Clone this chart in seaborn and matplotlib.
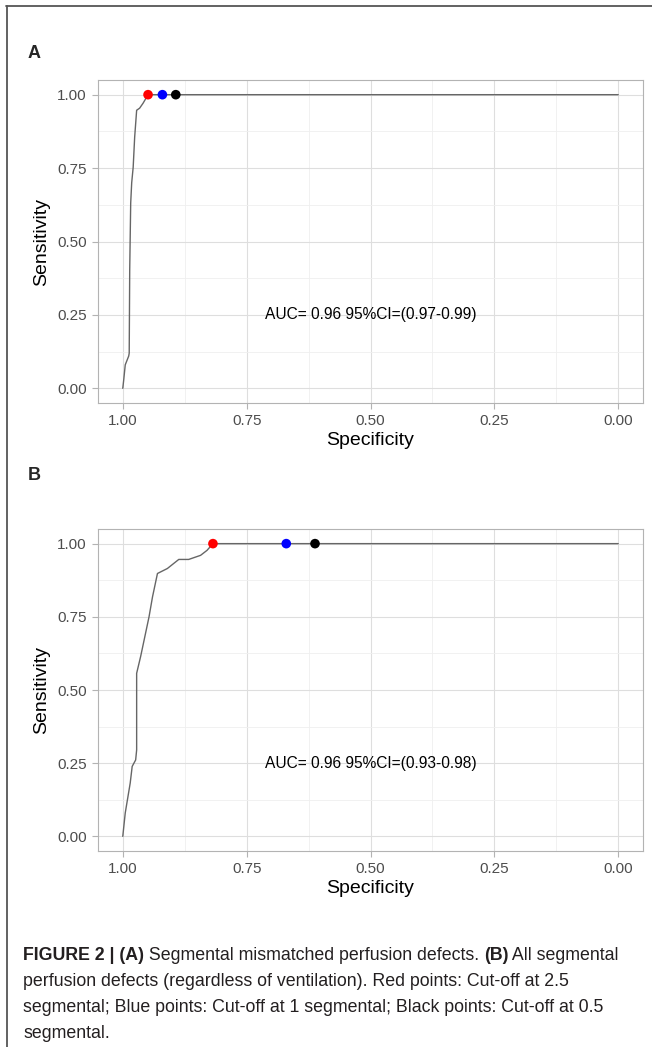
import matplotlib
matplotlib.use("Agg")
import matplotlib.pyplot as plt
import seaborn as sns
import pandas as pd
from matplotlib.lines import Line2D

# ROC curve for panel A (specificity, sensitivity)
spec_a = [1.000, 0.998, 0.995, 0.988, 0.987, 0.986, 0.984, 0.982, 0.979, 0.976, 0.972, 0.966, 0.959, 0.949, 0.920, 0.893, 0.000]
sens_a = [0.000, 0.030, 0.080, 0.110, 0.120, 0.403, 0.631, 0.700, 0.753, 0.855, 0.947, 0.954, 0.971, 1.000, 1.000, 1.000, 1.000]

# ROC curve for panel B
spec_b = [1.000, 0.995, 0.985, 0.981, 0.974, 0.972, 0.972, 0.964, 0.957, 0.947, 0.940, 0.930, 0.910, 0.887, 0.867, 0.843, 0.830, 0.818, 0.670, 0.612, 0.000]
sens_b = [0.000, 0.080, 0.182, 0.239, 0.261, 0.295, 0.557, 0.614, 0.670, 0.750, 0.818, 0.898, 0.915, 0.946, 0.946, 0.960, 0.977, 1.000, 1.000, 1.000, 1.000]

# cut-off points: red 2.5, blue 1, black 0.5 segmental
cut_colors = ["#FF0000", "#0000FF", "#000000"]
cut_spec_a = [0.949, 0.920, 0.893]
cut_spec_b = [0.818, 0.670, 0.612]
cut_sens = [1.0, 1.0, 1.0]

auc_a = "AUC= 0.96 95%CI=(0.97-0.99)"
auc_b = "AUC= 0.96 95%CI=(0.93-0.98)"
panel_tags = ["A", "B"]

ticks = [0.0, 0.25, 0.5, 0.75, 1.0]
tick_labels = ["0.00", "0.25", "0.50", "0.75", "1.00"]
minor = [0.125, 0.375, 0.625, 0.875]

caption = [
    [("FIGURE 2 | (A)", "bold"), (" Segmental mismatched perfusion defects. ", "normal"),
     ("(B)", "bold"), (" All segmental", "normal")],
    [("perfusion defects (regardless of ventilation). Red points: Cut-off at 2.5", "normal")],
    [("segmental; Blue points: Cut-off at 1 segmental; Black points: Cut-off at 0.5", "normal")],
    [("segmental.", "normal")],
]

sns.set_theme(style="white")
plt.rcParams['font.family'] = ['Liberation Sans', 'DejaVu Sans']

W, H = 652, 1047
fig = plt.figure(figsize=(W / 100, H / 100), dpi=100)


def px_axes(left, top, right, bottom):
    return fig.add_axes([left / W, 1 - bottom / H, (right - left) / W, (bottom - top) / H])


def draw_panel(ax, spec, sens, cut_spec, label):
    df = pd.DataFrame({"spec": spec, "sens": sens})
    sns.lineplot(data=df, x="spec", y="sens", sort=False, estimator=None,
                 color="#666666", linewidth=1.0, ax=ax)
    pts = pd.DataFrame({"spec": cut_spec, "sens": cut_sens, "c": ["r", "b", "k"]})
    sns.scatterplot(data=pts, x="spec", y="sens", hue="c", palette=cut_colors,
                    s=48, edgecolor="none", legend=False, zorder=3, ax=ax)
    ax.set_xlim(1.05, -0.05)
    ax.set_ylim(-0.05, 1.05)
    ax.set_xticks(ticks)
    ax.set_xticklabels(tick_labels)
    ax.set_yticks(ticks)
    ax.set_yticklabels(tick_labels)
    ax.set_xticks(minor, minor=True)
    ax.set_yticks(minor, minor=True)
    ax.grid(True, which="major", color="#DEDEDE", linewidth=0.8)
    ax.grid(True, which="minor", color="#EFEFEF", linewidth=0.6)
    ax.set_axisbelow(True)
    for s in ax.spines.values():
        s.set_color("#B3B3B3")
        s.set_linewidth(0.8)
    ax.tick_params(which="major", direction="out", length=4, width=0.8, color="#B3B3B3",
                   labelsize=11, labelcolor="#4D4D4D", pad=4, bottom=True, left=True)
    ax.tick_params(which="minor", length=0)
    ax.set_xlabel("Specificity", fontsize=14, color="black", labelpad=3)
    ax.set_ylabel("Sensitivity", fontsize=14, color="black", labelpad=5)
    ax.text(0.5, 0.25, label, ha="center", va="center", fontsize=11.2, color="black")


ax_a = px_axes(98, 80, 643, 403)
ax_b = px_axes(98, 529, 643, 851)
draw_panel(ax_a, spec_a, sens_a, cut_spec_a, auc_a)
draw_panel(ax_b, spec_b, sens_b, cut_spec_b, auc_b)

fig.text(28 / W, 1 - 53 / H, panel_tags[0], fontsize=13, fontweight="bold", va="center")
fig.text(28 / W, 1 - 476 / H, panel_tags[1], fontsize=13, fontweight="bold", va="center")

# outer frame (top and left rule)
fig.add_artist(Line2D([6 / W, 1], [1 - 6 / H, 1 - 6 / H], color="#555555", linewidth=1.3))
fig.add_artist(Line2D([7 / W, 7 / W], [1 - 6 / H, 0], color="#555555", linewidth=1.3))

# caption with mixed weights
fig.canvas.draw()
renderer = fig.canvas.get_renderer()
cap_size = 12.8
line_y = [955, 981, 1008, 1034]
for runs, y in zip(caption, line_y):
    x = 23
    for txt, wt in runs:
        t = fig.text(x / W, 1 - y / H, txt, fontsize=cap_size, fontweight=wt,
                     va="center", ha="left", color="#231F20")
        bb = t.get_window_extent(renderer=renderer)
        x += bb.width

fig.savefig("out.png", dpi=100)
